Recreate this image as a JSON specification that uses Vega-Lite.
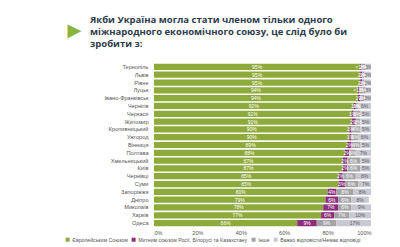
{
  "$schema": "https://vega.github.io/schema/vega-lite/v6.json",
  "width": 217,
  "height": 164,
  "autosize": {"type": "none"},
  "padding": {"left": 154, "top": 63, "right": 29, "bottom": 20},
  "background": "white",
  "title": {
    "text": ["Якби Україна могла стати членом тільки одного", "міжнародного економічного союзу, це слід було би", "зробити з:"],
    "anchor": "start",
    "frame": "group",
    "dx": -64,
    "dy": 43,
    "offset": 15,
    "font": "Open Sans",
    "fontWeight": "bold",
    "fontSize": 9.5,
    "lineHeight": 12.3,
    "color": "#2e3a4b"
  },
  "data": {
    "values": [
      {"city": "Тернопіль", "answer": "Європейським Союзом", "k": 1, "value": 95, "label": "95%"},
      {"city": "Тернопіль", "answer": "Митним союзом Росії, Білорусі та Казахстану", "k": 2, "value": 0.5, "label": "<1%"},
      {"city": "Тернопіль", "answer": "Інше", "k": 3, "value": 2, "label": "2%"},
      {"city": "Тернопіль", "answer": "Важко відповісти/Немає відповіді", "k": 4, "value": 3, "label": "3%"},
      {"city": "Львів", "answer": "Європейським Союзом", "k": 1, "value": 95, "label": "95%"},
      {"city": "Львів", "answer": "Митним союзом Росії, Білорусі та Казахстану", "k": 2, "value": 1, "label": "1%"},
      {"city": "Львів", "answer": "Інше", "k": 3, "value": 1, "label": "1%"},
      {"city": "Львів", "answer": "Важко відповісти/Немає відповіді", "k": 4, "value": 3, "label": "3%"},
      {"city": "Рівне", "answer": "Європейським Союзом", "k": 1, "value": 95, "label": "95%"},
      {"city": "Рівне", "answer": "Митним союзом Росії, Білорусі та Казахстану", "k": 2, "value": 1, "label": "1%"},
      {"city": "Рівне", "answer": "Інше", "k": 3, "value": 1, "label": "1%"},
      {"city": "Рівне", "answer": "Важко відповісти/Немає відповіді", "k": 4, "value": 3, "label": "3%"},
      {"city": "Луцьк", "answer": "Європейським Союзом", "k": 1, "value": 94, "label": "94%"},
      {"city": "Луцьк", "answer": "Митним союзом Росії, Білорусі та Казахстану", "k": 2, "value": 0.5, "label": "<1%"},
      {"city": "Луцьк", "answer": "Інше", "k": 3, "value": 3, "label": "3%"},
      {"city": "Луцьк", "answer": "Важко відповісти/Немає відповіді", "k": 4, "value": 3, "label": "3%"},
      {"city": "Івано-Франківськ", "answer": "Європейським Союзом", "k": 1, "value": 94, "label": "94%"},
      {"city": "Івано-Франківськ", "answer": "Митним союзом Росії, Білорусі та Казахстану", "k": 2, "value": 1, "label": "1%"},
      {"city": "Івано-Франківськ", "answer": "Інше", "k": 3, "value": 2, "label": "2%"},
      {"city": "Івано-Франківськ", "answer": "Важко відповісти/Немає відповіді", "k": 4, "value": 3, "label": "3%"},
      {"city": "Чернігів", "answer": "Європейським Союзом", "k": 1, "value": 92, "label": "92%"},
      {"city": "Чернігів", "answer": "Митним союзом Росії, Білорусі та Казахстану", "k": 2, "value": 1, "label": "1%"},
      {"city": "Чернігів", "answer": "Інше", "k": 3, "value": 1, "label": "1%"},
      {"city": "Чернігів", "answer": "Важко відповісти/Немає відповіді", "k": 4, "value": 6, "label": "6%"},
      {"city": "Черкаси", "answer": "Європейським Союзом", "k": 1, "value": 91, "label": "91%"},
      {"city": "Черкаси", "answer": "Митним союзом Росії, Білорусі та Казахстану", "k": 2, "value": 1, "label": "1%"},
      {"city": "Черкаси", "answer": "Інше", "k": 3, "value": 3, "label": "3%"},
      {"city": "Черкаси", "answer": "Важко відповісти/Немає відповіді", "k": 4, "value": 5, "label": "5%"},
      {"city": "Житомир", "answer": "Європейським Союзом", "k": 1, "value": 91, "label": "91%"},
      {"city": "Житомир", "answer": "Митним союзом Росії, Білорусі та Казахстану", "k": 2, "value": 2, "label": "2%"},
      {"city": "Житомир", "answer": "Інше", "k": 3, "value": 2, "label": "2%"},
      {"city": "Житомир", "answer": "Важко відповісти/Немає відповіді", "k": 4, "value": 5, "label": "5%"},
      {"city": "Кропивницький", "answer": "Європейським Союзом", "k": 1, "value": 90, "label": "90%"},
      {"city": "Кропивницький", "answer": "Митним союзом Росії, Білорусі та Казахстану", "k": 2, "value": 1, "label": "1%"},
      {"city": "Кропивницький", "answer": "Інше", "k": 3, "value": 4, "label": "4%"},
      {"city": "Кропивницький", "answer": "Важко відповісти/Немає відповіді", "k": 4, "value": 5, "label": "5%"},
      {"city": "Ужгород", "answer": "Європейським Союзом", "k": 1, "value": 90, "label": "90%"},
      {"city": "Ужгород", "answer": "Митним союзом Росії, Білорусі та Казахстану", "k": 2, "value": 1, "label": "1%"},
      {"city": "Ужгород", "answer": "Інше", "k": 3, "value": 3, "label": "3%"},
      {"city": "Ужгород", "answer": "Важко відповісти/Немає відповіді", "k": 4, "value": 6, "label": "6%"},
      {"city": "Вінниця", "answer": "Європейським Союзом", "k": 1, "value": 89, "label": "89%"},
      {"city": "Вінниця", "answer": "Митним союзом Росії, Білорусі та Казахстану", "k": 2, "value": 2, "label": "2%"},
      {"city": "Вінниця", "answer": "Інше", "k": 3, "value": 4, "label": "4%"},
      {"city": "Вінниця", "answer": "Важко відповісти/Немає відповіді", "k": 4, "value": 5, "label": "5%"},
      {"city": "Полтава", "answer": "Європейським Союзом", "k": 1, "value": 88, "label": "88%"},
      {"city": "Полтава", "answer": "Митним союзом Росії, Білорусі та Казахстану", "k": 2, "value": 2, "label": "2%"},
      {"city": "Полтава", "answer": "Інше", "k": 3, "value": 3, "label": "3%"},
      {"city": "Полтава", "answer": "Важко відповісти/Немає відповіді", "k": 4, "value": 7, "label": "7%"},
      {"city": "Хмельницький", "answer": "Європейським Союзом", "k": 1, "value": 87, "label": "87%"},
      {"city": "Хмельницький", "answer": "Митним союзом Росії, Білорусі та Казахстану", "k": 2, "value": 2, "label": "2%"},
      {"city": "Хмельницький", "answer": "Інше", "k": 3, "value": 6, "label": "6%"},
      {"city": "Хмельницький", "answer": "Важко відповісти/Немає відповіді", "k": 4, "value": 5, "label": "5%"},
      {"city": "Київ", "answer": "Європейським Союзом", "k": 1, "value": 87, "label": "87%"},
      {"city": "Київ", "answer": "Митним союзом Росії, Білорусі та Казахстану", "k": 2, "value": 2, "label": "2%"},
      {"city": "Київ", "answer": "Інше", "k": 3, "value": 6, "label": "6%"},
      {"city": "Київ", "answer": "Важко відповісти/Немає відповіді", "k": 4, "value": 5, "label": "5%"},
      {"city": "Чернівці", "answer": "Європейським Союзом", "k": 1, "value": 85, "label": "85%"},
      {"city": "Чернівці", "answer": "Митним союзом Росії, Білорусі та Казахстану", "k": 2, "value": 2, "label": "2%"},
      {"city": "Чернівці", "answer": "Інше", "k": 3, "value": 6, "label": "6%"},
      {"city": "Чернівці", "answer": "Важко відповісти/Немає відповіді", "k": 4, "value": 8, "label": "8%"},
      {"city": "Суми", "answer": "Європейським Союзом", "k": 1, "value": 85, "label": "85%"},
      {"city": "Суми", "answer": "Митним союзом Росії, Білорусі та Казахстану", "k": 2, "value": 3, "label": "3%"},
      {"city": "Суми", "answer": "Інше", "k": 3, "value": 6, "label": "6%"},
      {"city": "Суми", "answer": "Важко відповісти/Немає відповіді", "k": 4, "value": 7, "label": "7%"},
      {"city": "Запоріжжя", "answer": "Європейським Союзом", "k": 1, "value": 80, "label": "80%"},
      {"city": "Запоріжжя", "answer": "Митним союзом Росії, Білорусі та Казахстану", "k": 2, "value": 4, "label": "4%"},
      {"city": "Запоріжжя", "answer": "Інше", "k": 3, "value": 8, "label": "8%"},
      {"city": "Запоріжжя", "answer": "Важко відповісти/Немає відповіді", "k": 4, "value": 8, "label": "8%"},
      {"city": "Дніпро", "answer": "Європейським Союзом", "k": 1, "value": 79, "label": "79%"},
      {"city": "Дніпро", "answer": "Митним союзом Росії, Білорусі та Казахстану", "k": 2, "value": 6, "label": "6%"},
      {"city": "Дніпро", "answer": "Інше", "k": 3, "value": 6, "label": "6%"},
      {"city": "Дніпро", "answer": "Важко відповісти/Немає відповіді", "k": 4, "value": 8, "label": "8%"},
      {"city": "Миколаїв", "answer": "Європейським Союзом", "k": 1, "value": 78, "label": "78%"},
      {"city": "Миколаїв", "answer": "Митним союзом Росії, Білорусі та Казахстану", "k": 2, "value": 7, "label": "7%"},
      {"city": "Миколаїв", "answer": "Інше", "k": 3, "value": 6, "label": "6%"},
      {"city": "Миколаїв", "answer": "Важко відповісти/Немає відповіді", "k": 4, "value": 9, "label": "9%"},
      {"city": "Харків", "answer": "Європейським Союзом", "k": 1, "value": 77, "label": "77%"},
      {"city": "Харків", "answer": "Митним союзом Росії, Білорусі та Казахстану", "k": 2, "value": 6, "label": "6%"},
      {"city": "Харків", "answer": "Інше", "k": 3, "value": 7, "label": "7%"},
      {"city": "Харків", "answer": "Важко відповісти/Немає відповіді", "k": 4, "value": 10, "label": "10%"},
      {"city": "Одеса", "answer": "Європейським Союзом", "k": 1, "value": 66, "label": "66%"},
      {"city": "Одеса", "answer": "Митним союзом Росії, Білорусі та Казахстану", "k": 2, "value": 9, "label": "9%"},
      {"city": "Одеса", "answer": "Інше", "k": 3, "value": 9, "label": "9%"},
      {"city": "Одеса", "answer": "Важко відповісти/Немає відповіді", "k": 4, "value": 17, "label": "17%"}
    ]
  },
  "encoding": {
    "y": {
      "field": "city",
      "type": "nominal",
      "sort": null,
      "scale": {"paddingInner": 0.2, "paddingOuter": 0.1},
      "axis": {
        "title": "▶",
        "titleAngle": 0,
        "titleX": -80,
        "titleY": -33,
        "titleAlign": "center",
        "titleBaseline": "middle",
        "titleColor": "#8ab43c",
        "titleFont": "DejaVu Sans",
        "titleFontSize": 18,
        "titleFontWeight": "normal",
        "labelFont": "Liberation Sans",
        "labelFontSize": 5.6,
        "labelColor": "#555555",
        "labelPadding": 6,
        "ticks": false,
        "domain": false
      }
    },
    "order": {"field": "k"}
  },
  "layer": [
    {
      "mark": {"type": "bar", "clip": true},
      "encoding": {
        "x": {
          "field": "value",
          "type": "quantitative",
          "stack": "zero",
          "scale": {"domain": [0, 100], "nice": false},
          "axis": {
            "title": null,
            "values": [0, 10, 20, 30, 40, 50, 60, 70, 80, 90, 100],
            "labelExpr": "datum.value + '%'",
            "labelFont": "Liberation Sans",
            "labelFontSize": 5.6,
            "labelColor": "#555555",
            "labelPadding": 3,
            "ticks": false,
            "domain": false,
            "grid": false
          }
        },
        "color": {
          "field": "answer",
          "type": "nominal",
          "scale": {
            "domain": ["Європейським Союзом", "Митним союзом Росії, Білорусі та Казахстану", "Інше", "Важко відповісти/Немає відповіді"],
            "range": ["#8daa3b", "#8e2d7d", "#a3a3a8", "#c9c9d3"]
          },
          "legend": {
            "orient": "none",
            "legendX": -89,
            "legendY": 174,
            "direction": "horizontal",
            "title": null,
            "symbolType": "square",
            "symbolSize": 16,
            "symbolStrokeWidth": 0,
            "labelFont": "Liberation Sans",
            "labelFontSize": 5.2,
            "labelColor": "#555555",
            "labelOffset": 2,
            "columnPadding": 3
          }
        }
      }
    },
    {
      "mark": {"type": "text", "font": "Liberation Sans", "fontSize": 5, "baseline": "middle", "clip": true},
      "encoding": {
        "x": {"field": "value", "type": "quantitative", "stack": "zero", "bandPosition": 0.5},
        "detail": {"field": "answer"},
        "text": {"field": "label"},
        "color": {"condition": {"test": "datum.k === 4", "value": "#5f5f66"}, "value": "#ffffff"}
      }
    }
  ],
  "config": {"view": {"stroke": null}}
}
